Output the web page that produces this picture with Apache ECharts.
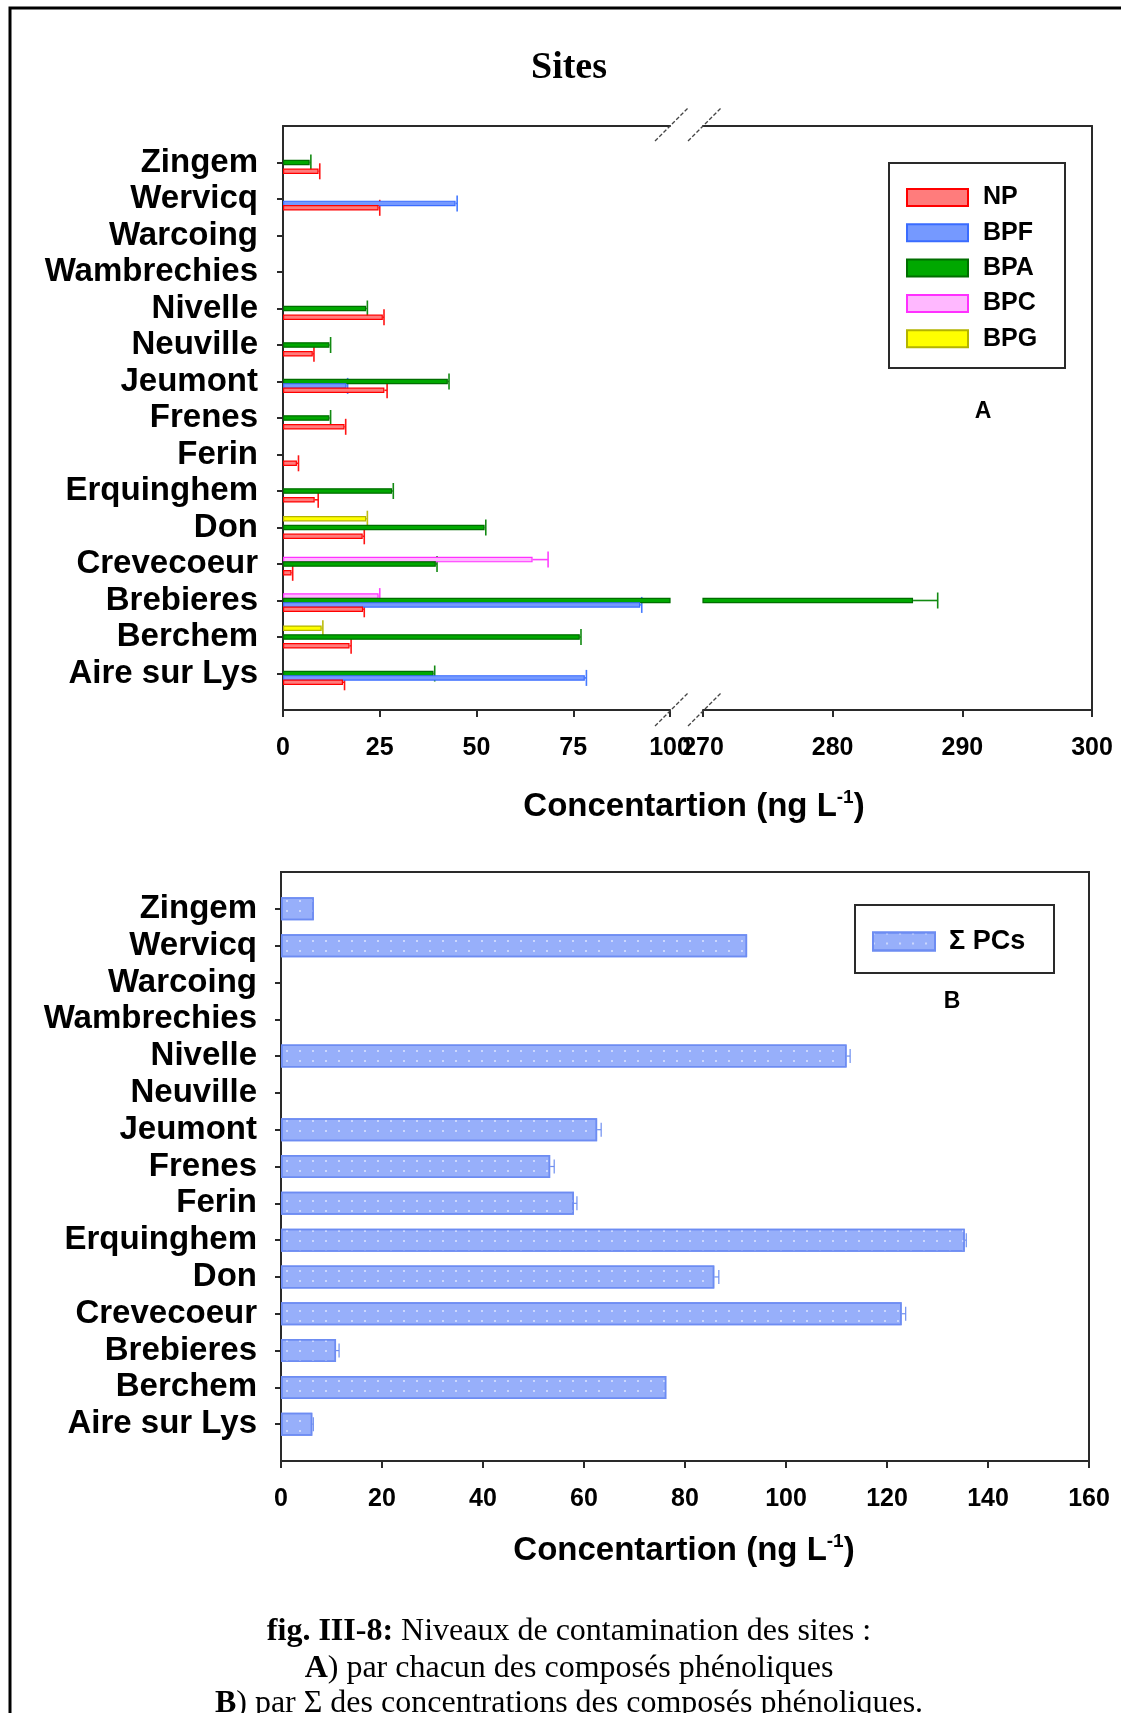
<!DOCTYPE html>
<html>
<head>
<meta charset="utf-8">
<script src="https://cdn.jsdelivr.net/npm/echarts@6/dist/echarts.min.js"></script>
<style>
  html, body { margin: 0; padding: 0; background: #ffffff; }
  #chart { width: 1121px; height: 1713px; }
</style>
</head>
<body>
<div id="chart"></div>
<script>
// Sampling sites, listed bottom to top of the y axis
const sites = ['Aire sur Lys', 'Berchem', 'Brebieres', 'Crevecoeur', 'Don', 'Erquinghem', 'Ferin',
  'Frenes', 'Jeumont', 'Neuville', 'Nivelle', 'Wambrechies', 'Warcoing', 'Wervicq', 'Zingem'];

// Panel A: mean concentration (ng/L) and standard deviation of each phenolic compound per site
const npMean  = [15.5, 17.2, 20.7, 2.2, 20.6, 8.2, 3.6, 15.9, 26.2, 7.7, 25.8, null, null, 24.7, 9.2];
const npSd    = [0.4, 0.4, 0.3, 0.3, 0.4, 0.9, 0.4, 0.3, 0.7, 0.3, 0.3, null, null, 0.3, 0.3];
const bpfMean = [78.0, null, 92.3, null, null, null, null, null, 16.4, null, null, null, null, 44.6, null];
const bpfSd   = [0.4, null, 0.4, null, null, null, null, null, 0.3, null, null, null, null, 0.4, null];
const bpaMean = [38.9, 76.7, 286.2, 39.5, 52.1, 28.2, null, 12.0, 42.6, 12.0, 21.5, null, null, null, 6.9];
const bpaSd   = [0.3, 0.3, 1.9, 0.3, 0.3, 0.3, null, 0.3, 0.3, 0.3, 0.3, null, null, null, 0.3];
const bpcMean = [null, null, 24.7, 64.5, null, null, null, null, null, null, null, null, null, null, null];
const bpcSd   = [null, null, 0.3, 4.0, null, null, null, null, null, null, null, null, null, null, null];
const bpgMean = [null, 10.0, null, null, 21.5, null, null, null, null, null, null, null, null, null, null];
const bpgSd   = [null, 0.3, null, null, 0.3, null, null, null, null, null, null, null, null, null, null];

// Panel B: sum of phenolic compounds per site
const sumMean = [6.2, 76.3, 10.9, 122.9, 85.8, 135.4, 58.0, 53.3, 62.6, null, 112.0, null, null, 92.3, 6.5];
const sumSd   = [0.2, 0, 0.6, 0.8, 0.9, 0.3, 0.6, 0.8, 0.8, null, 0.7, null, null, 0, 0];

// Axis ranges: panel A has a broken x axis (two segments)
const leftRange  = [0, 100, 25];
const rightRange = [270, 300, 10];
const sumRange   = [0, 160, 20];

const SANS = "'Liberation Sans', Arial, Helvetica, sans-serif";
const SERIF = "'Liberation Serif', 'Times New Roman', Times, serif";
const AXIS = '#2a2a2a';

// blank slots at both ends give the half-row margin above and below the sites
const yCats = ['', ...sites, ''];
const pad = arr => ['-', ...arr.map(v => (v == null ? '-' : v)), '-'];
const errData = (mean, sd) => mean
  .map((m, i) => (m == null ? null : [m, i + 1, sd[i] || 0]))
  .filter(Boolean);

// compounds in their top-to-bottom order inside a site row
const compounds = [
  { name: 'BPG', mean: bpgMean, sd: bpgSd, fill: '#ffff00', line: '#b4b400', err: '#bdbd10' },
  { name: 'BPC', mean: bpcMean, sd: bpcSd, fill: '#ffb8ff', line: '#ff30ff', err: '#ff40ff' },
  { name: 'BPA', mean: bpaMean, sd: bpaSd, fill: '#00a800', line: '#006e00', err: '#128a12' },
  { name: 'BPF', mean: bpfMean, sd: bpfSd, fill: '#7599ff', line: '#3a6cff', err: '#4479ff' },
  { name: 'NP',  mean: npMean,  sd: npSd,  fill: '#ff7c7c', line: '#ff0000', err: '#ff1414' }
];
const BAR_W = 5.5;
const BAR_GAP = -0.2;
const STEP = BAR_W * (1 + BAR_GAP);

// error whisker from mean to mean + sd, with a cap, clipped to its grid
function errorRenderer(offset, capHalf, width, color) {
  return function (params, api) {
    const mean = api.value(0), cat = api.value(1), sd = api.value(2);
    const cs = params.coordSys;
    const p = api.coord([mean, cat]);
    const q = api.coord([mean + sd, cat]);
    const y = p[1] + offset;
    const lo = cs.x, hi = cs.x + cs.width;
    const kids = [];
    const x1 = Math.max(p[0], lo), x2 = Math.min(q[0], hi);
    if (x2 > x1) {
      kids.push({ type: 'line', shape: { x1: x1, y1: y, x2: x2, y2: y },
        style: { stroke: color, lineWidth: width } });
    }
    if (sd > 0 && q[0] >= lo && q[0] <= hi + 0.5) {
      kids.push({ type: 'line', shape: { x1: q[0], y1: y - capHalf, x2: q[0], y2: y + capHalf },
        style: { stroke: color, lineWidth: width } });
    }
    return { type: 'group', children: kids };
  };
}

const series = [];
[0, 1].forEach(g => {
  compounds.forEach(c => {
    series.push({
      type: 'bar', name: c.name, xAxisIndex: g, yAxisIndex: g,
      data: pad(c.mean), barWidth: BAR_W, barGap: (BAR_GAP * 100) + '%',
      clip: true, silent: true,
      itemStyle: { color: c.fill, borderColor: c.line, borderWidth: 1.2 }
    });
  });
  compounds.forEach((c, k) => {
    series.push({
      type: 'custom', name: c.name + ' sd', xAxisIndex: g, yAxisIndex: g,
      data: errData(c.mean, c.sd), encode: { x: 0, y: 1 }, silent: true,
      renderItem: errorRenderer((k - 2) * STEP, 8, 1.6, c.err)
    });
  });
});

series.push({
  type: 'bar', name: 'Σ PCs', xAxisIndex: 4, yAxisIndex: 2,
  data: pad(sumMean), barWidth: 23, clip: true, silent: true,
  itemStyle: {
    color: '#97affa', borderColor: '#6d8cf2', borderWidth: 1.5,
    decal: { symbol: 'rect', symbolSize: 1, color: 'rgba(255,255,255,0.5)',
      dashArrayX: [2, 11], dashArrayY: [2, 8] }
  }
});
series.push({
  type: 'custom', name: 'Σ PCs sd', xAxisIndex: 4, yAxisIndex: 2,
  data: errData(sumMean, sumSd), encode: { x: 0, y: 1 }, silent: true,
  renderItem: errorRenderer(0, 7, 1.2, '#6f8ff0')
});

const lineStyle = { color: AXIS, width: 2 };
const labelFont = { fontSize: 25, fontWeight: 'bold', fontFamily: SANS, color: '#000' };

function catAxis(grid, position, withLabels, margin) {
  return {
    type: 'category', gridIndex: grid, data: yCats, boundaryGap: false, position: position,
    axisLine: { show: true, onZero: false, lineStyle: lineStyle },
    axisTick: { show: withLabels, length: 6, interval: (i, v) => v !== '', lineStyle: lineStyle },
    axisLabel: { show: withLabels, interval: 0, margin: margin, fontSize: 33, fontWeight: 'bold',
      fontFamily: SANS, color: '#000' },
    splitLine: { show: false }
  };
}
function valAxis(grid, range) {
  return {
    type: 'value', gridIndex: grid, min: range[0], max: range[1], interval: range[2], position: 'bottom',
    axisLine: { show: true, onZero: false, lineStyle: lineStyle },
    axisTick: { show: true, length: 7, lineStyle: lineStyle },
    axisLabel: Object.assign({ margin: 26 }, labelFont),
    splitLine: { show: false }
  };
}
function frameAxis(grid, range) {
  return {
    type: 'value', gridIndex: grid, min: range[0], max: range[1], position: 'top',
    axisLine: { show: true, onZero: false, lineStyle: lineStyle },
    axisTick: { show: false }, axisLabel: { show: false }, splitLine: { show: false }
  };
}

const legendText = { fontSize: 25, fontWeight: 'bold', fontFamily: SANS, color: '#000', lineHeight: 25 };

const axisTitle = {
  a: { fontSize: 33, fontWeight: 'bold', fontFamily: SANS, fill: '#000', lineHeight: 37 },
  s: { fontSize: 19, fontWeight: 'bold', fontFamily: SANS, fill: '#000', verticalAlign: 'top', lineHeight: 19 }
};
const captionRich = {
  b: { fontSize: 32, fontWeight: 'bold', fontFamily: SERIF, fill: '#000' },
  r: { fontSize: 32, fontFamily: SERIF, fill: '#000' }
};
const breakLine = { stroke: '#444', lineWidth: 1.3, lineDash: [4, 2] };

const option = {
  animation: false,
  backgroundColor: '#ffffff',
  grid: [
    { left: 283, top: 126, width: 387, height: 584 },
    { left: 703, top: 126, width: 389, height: 584 },
    { left: 281, top: 872, width: 808, height: 589, show: true, borderColor: AXIS, borderWidth: 2 }
  ],
  xAxis: [
    valAxis(0, leftRange),
    valAxis(1, rightRange),
    frameAxis(0, leftRange),
    frameAxis(1, rightRange),
    valAxis(2, sumRange)
  ],
  yAxis: [
    catAxis(0, 'left', true, 25),
    catAxis(1, 'right', false, 0),
    catAxis(2, 'left', true, 24)
  ],
  legend: [
    {
      data: ['NP', 'BPF', 'BPA', 'BPC', 'BPG'], orient: 'vertical', left: 906, top: 185,
      itemWidth: 61, itemHeight: 17, itemGap: 10.3, padding: 0, icon: 'rect', selectedMode: false,
      textStyle: Object.assign({ padding: [0, 0, 0, 10] }, legendText)
    },
    {
      data: ['Σ PCs'], orient: 'vertical', left: 872, top: 928,
      itemWidth: 62, itemHeight: 18, padding: 0, icon: 'rect', selectedMode: false,
      textStyle: Object.assign({ padding: [0, 0, 0, 9] }, legendText, { fontSize: 27, lineHeight: 27 })
    }
  ],
  graphic: [
    { type: 'rect', z: 100, shape: { x: 10, y: 8, width: 1200, height: 1800 },
      style: { fill: 'none', stroke: '#000', lineWidth: 3 } },
    { type: 'text', z: 100, x: 569, y: 68,
      style: { text: 'Sites', font: "bold 38px " + SERIF, fill: '#000', align: 'center', verticalAlign: 'middle' } },
    // legend frames
    { type: 'rect', z: 100, shape: { x: 889, y: 163, width: 176, height: 205 },
      style: { fill: 'none', stroke: AXIS, lineWidth: 2 } },
    { type: 'rect', z: 100, shape: { x: 855, y: 905, width: 199, height: 68 },
      style: { fill: 'none', stroke: AXIS, lineWidth: 2 } },
    { type: 'text', z: 100, x: 983, y: 412,
      style: { text: 'A', font: "bold 23px " + SANS, fill: '#000', align: 'center', verticalAlign: 'middle' } },
    { type: 'text', z: 100, x: 952, y: 1002,
      style: { text: 'B', font: "bold 23px " + SANS, fill: '#000', align: 'center', verticalAlign: 'middle' } },
    // axis break marks, top and bottom
    { type: 'line', z: 100, shape: { x1: 655, y1: 141, x2: 688, y2: 108 }, style: breakLine },
    { type: 'line', z: 100, shape: { x1: 688, y1: 141, x2: 721, y2: 108 }, style: breakLine },
    { type: 'line', z: 100, shape: { x1: 655, y1: 726, x2: 688, y2: 693 }, style: breakLine },
    { type: 'line', z: 100, shape: { x1: 688, y1: 726, x2: 721, y2: 693 }, style: breakLine },
    // x axis titles
    { type: 'text', z: 100, x: 694, y: 807,
      style: { text: '{a|Concentartion (ng L}{s|-1}{a|)}', rich: axisTitle, align: 'center', verticalAlign: 'middle' } },
    { type: 'text', z: 100, x: 684, y: 1551,
      style: { text: '{a|Concentartion (ng L}{s|-1}{a|)}', rich: axisTitle, align: 'center', verticalAlign: 'middle' } },
    // figure caption
    { type: 'text', z: 100, x: 569, y: 1632,
      style: { text: '{b|fig. III-8:}{r| Niveaux de contamination des sites :}', rich: captionRich,
        align: 'center', verticalAlign: 'middle' } },
    { type: 'text', z: 100, x: 569, y: 1669,
      style: { text: '{b|A}{r|) par chacun des composés phénoliques}', rich: captionRich,
        align: 'center', verticalAlign: 'middle' } },
    { type: 'text', z: 100, x: 569, y: 1704,
      style: { text: '{b|B}{r|) par Σ des concentrations des composés phénoliques.}', rich: captionRich,
        align: 'center', verticalAlign: 'middle' } }
  ],
  series: series
};

const chart = echarts.init(document.getElementById('chart'), null, { renderer: 'canvas' });
chart.setOption(option);
</script>
</body>
</html>
